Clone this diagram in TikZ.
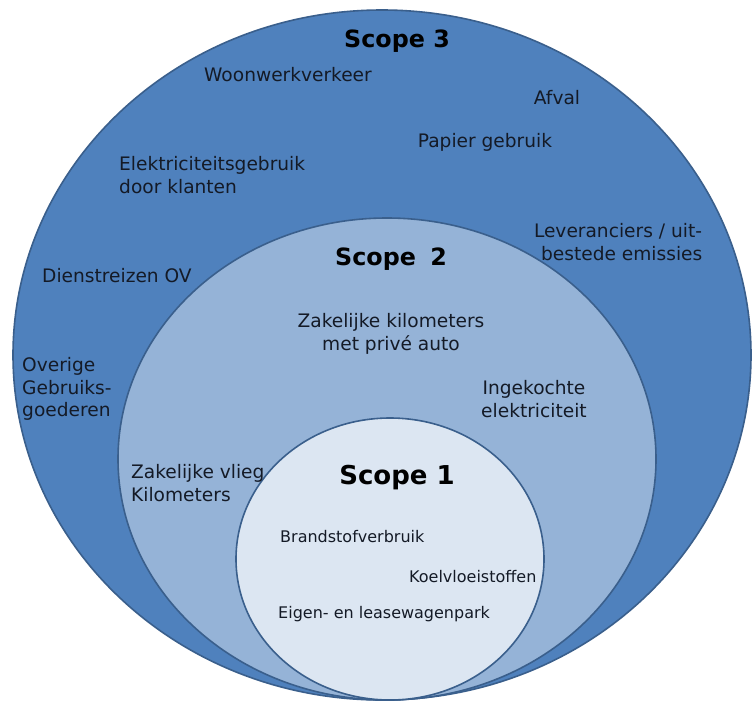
\documentclass[tikz,border=0pt]{standalone}
\usepackage{fontspec}
\setmainfont{DejaVu Sans}
\definecolor{outerfill}{HTML}{4F81BD}
\definecolor{midfill}{HTML}{95B3D7}
\definecolor{innerfill}{HTML}{DCE6F2}
\definecolor{rim}{HTML}{3A5F8C}
\definecolor{ink}{HTML}{141A26}
\tikzset{
  ring/.style={draw=rim, line width=1.6pt},
  lbl/.style={text=ink, font=\fontsize{18.6}{22.5}\selectfont, inner sep=0pt, align=center},
  lbll/.style={lbl, align=left, anchor=west},
  small/.style={text=ink, font=\fontsize{16}{19}\selectfont, inner sep=0pt},
  head/.style={text=black, font=\bfseries\fontsize{23.8}{28}\selectfont, inner sep=0pt},
}
\begin{document}
\begin{tikzpicture}[x=1pt,y=-1pt]
\useasboundingbox (0,0) rectangle (752,702);
\fill[white] (0,0) rectangle (752,702);
\draw[ring, fill=outerfill] (382,355) ellipse [x radius=369, y radius=345];
\draw[ring, fill=midfill] (387,459) ellipse [x radius=269, y radius=241];
\draw[ring, fill=innerfill] (390,559) ellipse [x radius=154, y radius=141];

\node[head] (s3) at (397,41) {Scope 3};
\node[lbl] (woon) at (288,75) {Woonwerkverkeer};
\node[lbl] (afval) at (557,98) {Afval};
\node[lbl] (papier) at (485,142) {Papier gebruik};
\node[lbll] (elek) at (119,175) {Elektriciteitsgebruik\\door klanten};
\node[lbl] (lev) at (618,242) {Leveranciers / uit-\\\hspace*{0.4em}bestede emissies};
\node[lbll] (dienst) at (42,276) {Dienstreizen OV};
\node[lbll] (overig) at (22,389) {Overige\\Gebruiks-\\goederen};

\node[head] (s2) at (391,259) {Scope\hspace{0.6em}2};
\node[lbl] (zak) at (391,334) {Zakelijke kilometers\\met privé auto};
\node[lbl] (inge) at (534,399) {Ingekochte\\elektriciteit};
\node[lbll] (vlieg) at (131,483) {Zakelijke vlieg\\Kilometers};

\node[head, font=\bfseries\fontsize{26}{30}\selectfont] (s1) at (397,478) {Scope 1};
\node[small, anchor=west] (brand) at (280,537) {Brandstofverbruik};
\node[small, anchor=west] (koel) at (409,577) {Koelvloeistoffen};
\node[small, anchor=west] (eigen) at (278,614) {Eigen- en leasewagenpark};
\end{tikzpicture}
\end{document}
